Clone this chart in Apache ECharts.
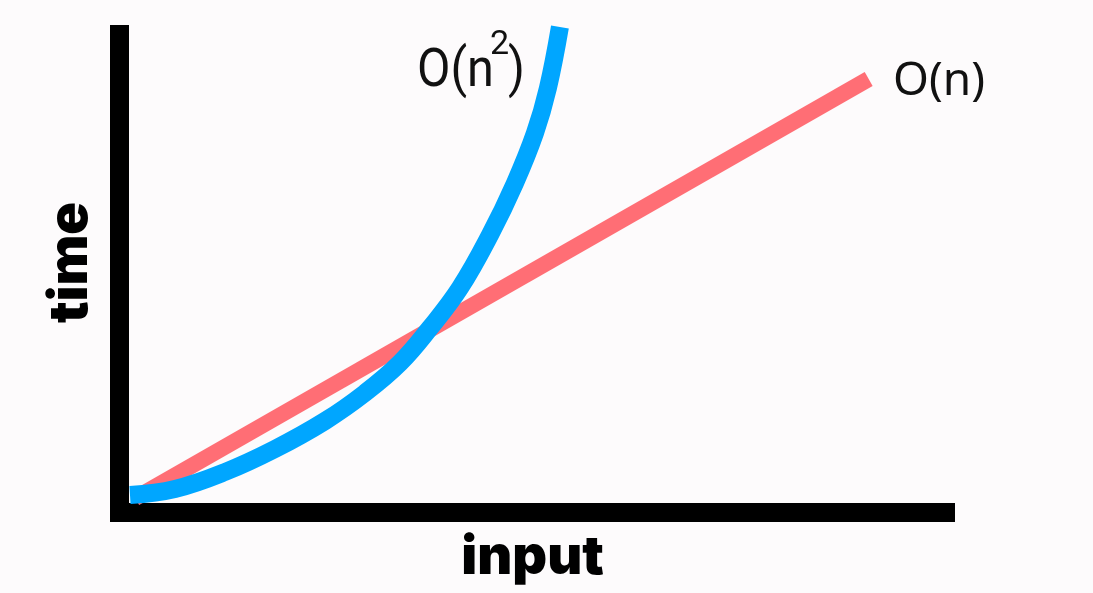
<!DOCTYPE html>
<html><head><meta charset="utf-8">
<script src="https://cdn.jsdelivr.net/npm/echarts@6/dist/echarts.min.js"></script>
<style>html,body{margin:0;padding:0;background:#fdfbfc}#c{width:1093px;height:593px}</style>
</head><body><div id="c"></div>
<script>
// O(n) line: [input, time]
const linearX = [0.19, 9.07];
const linearY = [0.30, 9.07];
// O(n^2) curve
const quadX = [0.127, 0.672, 1.277, 1.882, 2.488, 2.972, 3.396, 3.759, 4.122, 4.485, 4.788, 5.030, 5.187, 5.332];
const quadY = [0.366, 0.492, 0.847, 1.328, 1.914, 2.500, 3.128, 3.860, 4.697, 5.805, 6.893, 7.939, 8.881, 10.157];
const axisNames = ['input', 'time'];
const labelLinear = 'O(n)';
const labelQuadBase = 'O(n';
const labelQuadSup = '2';
const labelQuadEnd = ')';

const zip = (a, b) => a.map((v, i) => [v, b[i]]);
const chart = echarts.init(document.getElementById('c'), null, {renderer: 'canvas'});
const axisCommon = {
  type: 'value', min: 0, max: 10,
  axisLine: {show: true, lineStyle: {color: '#000', width: 19, cap: 'square'}},
  axisTick: {show: false}, axisLabel: {show: false}, splitLine: {show: false},
  nameLocation: 'middle',
  nameTextStyle: {color: '#000', fontFamily: 'Inter', fontWeight: 900, fontSize: 54}
};
chart.setOption({
  backgroundColor: '#fdfbfc',
  animation: false,
  grid: {left: 119.5, right: 147.5, top: 34.5, bottom: 80.5},
  xAxis: Object.assign({}, axisCommon, {name: axisNames[0], nameGap: 18}),
  yAxis: Object.assign({}, axisCommon, {name: axisNames[1], nameGap: 22, nameRotate: 90,
    nameTextStyle: Object.assign({}, axisCommon.nameTextStyle, {padding: [0, 0, 0, 22]})}),
  series: [
    {type: 'line', data: zip(linearX, linearY), symbol: 'none', clip: false,
     lineStyle: {color: '#ff6e75', width: 16, cap: 'butt'}, z: 2},
    {type: 'line', data: zip(quadX, quadY), symbol: 'none', smooth: 0.4, clip: false,
     lineStyle: {color: '#00a6ff', width: 18, cap: 'butt'}, z: 3}
  ],
  graphic: [
    {type: 'text', x: 417, y: 72, scaleX: 0.9, style: {text: labelQuadBase, font: '54px Roboto', fill: '#111', align: 'left', verticalAlign: 'middle'}},
    {type: 'text', x: 490, y: 45, style: {text: labelQuadSup, font: '34px Roboto', fill: '#111', align: 'left', verticalAlign: 'middle'}},
    {type: 'text', x: 508, y: 72, scaleX: 0.9, style: {text: labelQuadEnd, font: '54px Roboto', fill: '#111', align: 'left', verticalAlign: 'middle'}},
    {type: 'text', x: 893, y: 82, style: {text: labelLinear, font: '46px "Noto Sans"', fill: '#111', align: 'left', verticalAlign: 'middle'}}
  ]
});
</script></body></html>
